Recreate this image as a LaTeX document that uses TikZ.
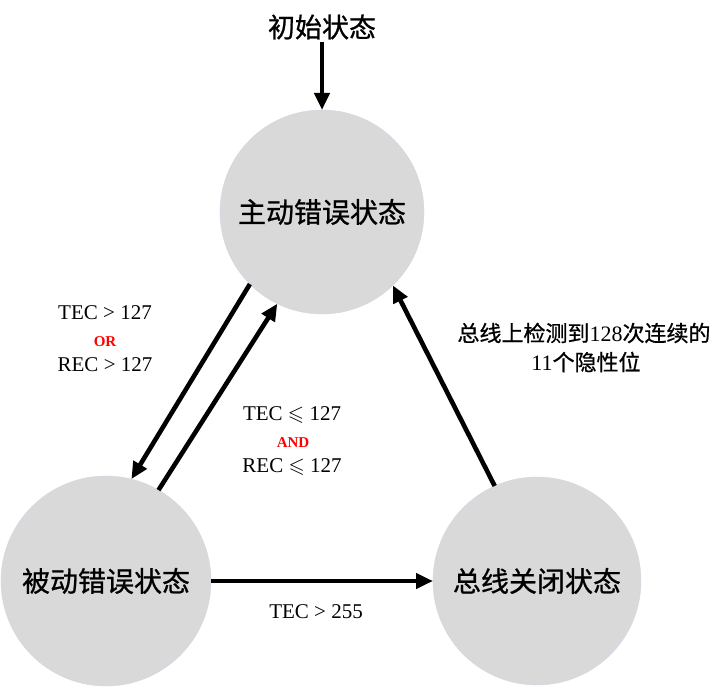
\documentclass[tikz,border=0pt]{standalone}
\usepackage{fontspec}
\usepackage{amssymb}
\setmainfont{Liberation Serif}
\newfontfamily\cjk{Noto Sans CJK SC}
\newfontfamily\cjkb[FakeBold=0.8]{Noto Sans CJK SC}
\usetikzlibrary{arrows.meta}
\definecolor{stategray}{RGB}{217,217,217}
\tikzset{
  state/.style={circle, fill=stategray, draw=stategray!85!blue!60, line width=0.4pt,
    minimum size=#1, inner sep=0pt, outer sep=0pt,
    font=\cjkb\fontsize{28}{30}\selectfont},
  trans/.style={line width=4.6pt, -{Triangle[length=17pt,width=15pt]}},
  cond/.style={align=center, font=\fontsize{21}{26}\selectfont},
  logic/.style={text=red, font=\bfseries\fontsize{15}{17}\selectfont},
  note/.style={align=center, font=\fontsize{22}{30}\selectfont},
}
\begin{document}
\begin{tikzpicture}[x=1pt,y=-1pt]
\useasboundingbox (0,0) rectangle (720,695);
\fill[white] (0,0) rectangle (720,695);
\node[state=204pt] (top) at (322,212) {主动错误状态};
\node[state=210pt] (bl) at (106,581) {被动错误状态};
\node[state=208pt] (br) at (537,581) {总线关闭状态};
\node[font=\cjkb\fontsize{27}{30}\selectfont, inner sep=2pt] (init) at (322,27) {初始状态};
\draw[trans] (init.south) -- (top.north);
\draw[trans] (top.225) -- (bl.76);
\draw[trans] (bl.60) -- (top.244);
\draw[trans] (br.114) -- (top.314);
\draw[trans] (bl.east) -- (br.west);
\node[cond] (c1a) at (105,313) {TEC > 127};
\node[logic] (c1b) at (105,342) {OR};
\node[cond] (c1c) at (105,365) {REC > 127};
\node[cond] (c2a) at (292,415) {TEC $\leqslant$ 127};
\node[logic] (c2b) at (293,443) {AND};
\node[cond] (c2c) at (292,467) {REC $\leqslant$ 127};
\node[cond] (c3) at (316,612) {TEC > 255};
\node[note] (n1) at (584,333) {{\cjkb 总线上检测到}128{\cjkb 次连续的}};
\node[note] (n2) at (586,362) {11{\cjkb 个隐性位}};
\end{tikzpicture}
\end{document}
